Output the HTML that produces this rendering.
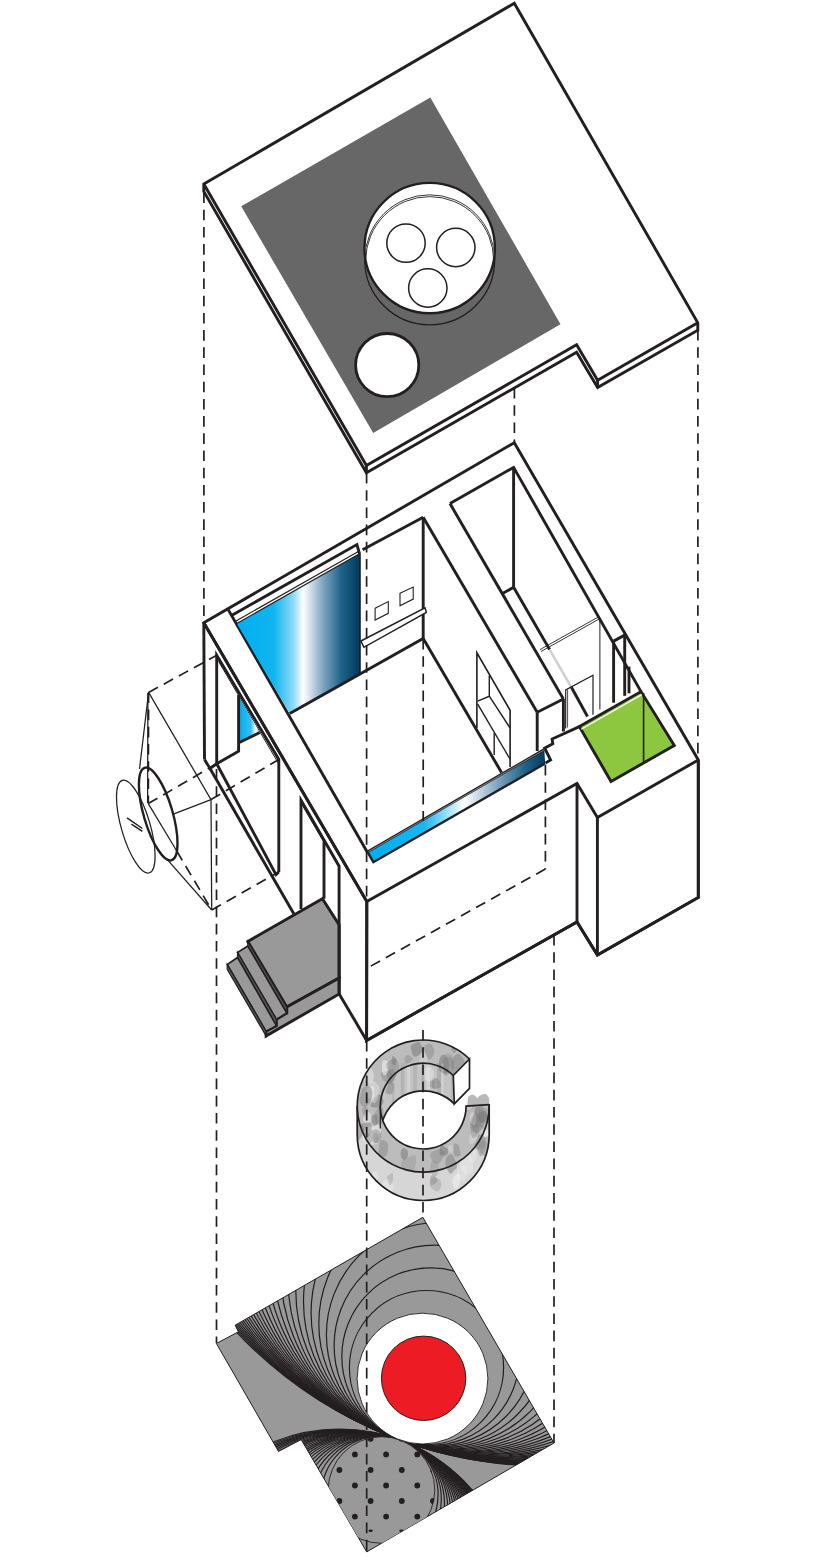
<!DOCTYPE html>
<html><head><meta charset="utf-8"><title>Exploded axonometric</title>
<style>html,body{margin:0;padding:0;background:#fff}svg{display:block}</style></head>
<body><svg width="818" height="1560" viewBox="0 0 818 1560"><polygon points="203.8,184.0 514.3,3.3 697.8,322.8 697.8,330.2 597.6,387.6 576.6,352.2 366.4,472.8 203.8,191.4" fill="#fff" stroke="#231f20" stroke-width="2.9" stroke-linejoin="miter" />
<polyline points="203.8,184.0 366.4,465.4 576.6,344.8 597.6,380.2 697.8,322.8" fill="none" stroke="#231f20" stroke-width="2.9" />
<polyline points="366.4,465.4 366.4,472.8" fill="none" stroke="#231f20" stroke-width="2.9" />
<polyline points="597.6,380.2 597.6,387.6" fill="none" stroke="#231f20" stroke-width="2.9" />
<polygon points="430.3,97.4 241.2,206.3 373.2,433.0 560.5,324.2" fill="#676767" stroke="none" stroke-width="0" stroke-linejoin="miter" />
<circle cx="429.7" cy="259.8" r="65.0" fill="none" stroke="#231f20" stroke-width="1.3" />
<circle cx="429.7" cy="248.1" r="65.2" fill="#fff" stroke="#231f20" stroke-width="2.4" />
<clipPath id="cpA"><circle cx="429.7" cy="248.1" r="64"/></clipPath>
<g clip-path="url(#cpA)">
<circle cx="429.7" cy="259.8" r="65.0" fill="none" stroke="#231f20" stroke-width="0.9" />
<circle cx="429.7" cy="260.6" r="64.0" fill="none" stroke="#231f20" stroke-width="0.9" />
</g>
<circle cx="406.0" cy="243.1" r="19.2" fill="#fff" stroke="#231f20" stroke-width="1.5" />
<circle cx="455.8" cy="247.5" r="19.2" fill="#fff" stroke="#231f20" stroke-width="1.5" />
<circle cx="427.8" cy="288.0" r="19.2" fill="#fff" stroke="#231f20" stroke-width="1.5" />
<circle cx="387.2" cy="365.1" r="31.6" fill="#fff" stroke="#231f20" stroke-width="2.8" />
<polygon points="247.8,941.5 322.4,898.7 339.2,925.0 339.2,978.0 286.8,1007.1" fill="#999999" stroke="#231f20" stroke-width="2.9" stroke-linejoin="miter" />
<polygon points="286.8,1007.1 339.2,978.0 339.2,993.9 266.1,1036.0 266.1,1031.3 276.4,1025.7 276.4,1019.3 286.8,1013.0" fill="#999999" stroke="#231f20" stroke-width="2.9" stroke-linejoin="miter" />
<polygon points="247.8,941.5 247.8,946.0 286.8,1013.0 286.8,1007.1" fill="#555" stroke="#231f20" stroke-width="1.2" stroke-linejoin="miter" />
<polygon points="247.8,946.0 237.5,952.5 276.4,1019.3 286.8,1013.0" fill="#999999" stroke="#231f20" stroke-width="1.6" stroke-linejoin="miter" />
<polygon points="237.5,952.5 237.5,957.5 276.4,1025.7 276.4,1019.3" fill="#555" stroke="#231f20" stroke-width="1.2" stroke-linejoin="miter" />
<polygon points="237.5,957.5 227.2,964.5 266.1,1031.3 276.4,1025.7" fill="#999999" stroke="#231f20" stroke-width="1.6" stroke-linejoin="miter" />
<polygon points="227.2,964.5 227.2,969.3 266.1,1036.0 266.1,1031.3" fill="#555" stroke="#231f20" stroke-width="1.2" stroke-linejoin="miter" />
<polygon points="203.8,622.8 514.3,442.7 698.3,760.0 698.3,897.4 597.4,955.0 577.0,922.0 366.6,1040.4 366.8,901.6 366.8,901.6" fill="none" stroke="#231f20" stroke-width="2.9" stroke-linejoin="miter" />
<polyline points="366.8,901.6 577.0,783.5 597.4,817.5 698.3,760.0" fill="none" stroke="#231f20" stroke-width="2.9" />
<polyline points="366.8,901.6 366.6,1040.4 577.0,922.0 597.4,955.0 698.3,897.4 698.3,760.0" fill="none" stroke="#231f20" stroke-width="2.9" />
<polyline points="577.0,783.5 577.0,922.0" fill="none" stroke="#231f20" stroke-width="2.9" />
<polyline points="597.4,817.5 597.4,955.0" fill="none" stroke="#231f20" stroke-width="2.9" />
<polyline points="203.8,622.8 204.5,759.6" fill="none" stroke="#231f20" stroke-width="2.9" />
<polyline points="203.8,622.8 366.8,901.6" fill="none" stroke="#231f20" stroke-width="2.9" />
<polyline points="228.2,609.6 367.2,852.0" fill="none" stroke="#231f20" stroke-width="2.9" />
<polyline points="216.7,763.8 216.7,655.3 278.8,759.5 278.8,872.0" fill="none" stroke="#231f20" stroke-width="2.9" />
<polyline points="218.6,661.5 278.5,763.5" fill="none" stroke="#231f20" stroke-width="1.0" />
<linearGradient id="gB2" x1="239.7" x2="260" y1="0" y2="0" gradientUnits="userSpaceOnUse"><stop offset="0" stop-color="#00aeef"/><stop offset="0.55" stop-color="#38bff0"/><stop offset="0.8" stop-color="#ffffff"/><stop offset="1" stop-color="#7aa6c4"/></linearGradient>
<polygon points="239.3,697.5 259.8,732.5 239.3,742.5" fill="url(#gB2)" stroke="none" stroke-width="0" stroke-linejoin="miter" />
<polyline points="238.6,695.0 238.6,751.2 216.7,763.8" fill="none" stroke="#231f20" stroke-width="2.9" />
<polyline points="239.3,742.5 259.8,732.5" fill="none" stroke="#231f20" stroke-width="2.9" />
<polyline points="204.5,759.6 210.0,768.5 216.7,763.8" fill="none" stroke="#231f20" stroke-width="2.9" />
<polyline points="216.7,763.8 276.0,874.6 278.8,872.0" fill="none" stroke="#231f20" stroke-width="2.9" />
<polyline points="210.0,768.5 293.8,913.8" fill="none" stroke="#231f20" stroke-width="2.9" />
<polyline points="301.0,909.0 301.0,800.2 339.1,866.2 339.1,993.9" fill="none" stroke="#231f20" stroke-width="2.9" />
<polyline points="324.0,841.5 324.0,898.7" fill="none" stroke="#231f20" stroke-width="2.9" />
<polyline points="303.0,806.5 324.0,842.5" fill="none" stroke="#231f20" stroke-width="1.0" />
<polyline points="339.2,993.9 366.6,1040.4" fill="none" stroke="#231f20" stroke-width="2.9" />
<linearGradient id="gB1" x1="236.8" x2="360" y1="0" y2="0" gradientUnits="userSpaceOnUse"><stop offset="0" stop-color="#00aeef"/><stop offset="0.3" stop-color="#10b5f0"/><stop offset="0.46" stop-color="#8fdaf7"/><stop offset="0.54" stop-color="#ffffff"/><stop offset="0.7" stop-color="#7fa5c0"/><stop offset="0.85" stop-color="#1f6288"/><stop offset="1" stop-color="#003a5e"/></linearGradient>
<polygon points="236.8,623.5 360.0,553.5 360.0,674.0 289.8,713.5" fill="url(#gB1)" stroke="none" stroke-width="0" stroke-linejoin="miter" />
<polyline points="236.8,623.5 359.5,553.8" fill="none" stroke="#231f20" stroke-width="1.2" />
<polyline points="236.0,621.0 358.8,551.2" fill="none" stroke="#231f20" stroke-width="1.2" />
<polyline points="231.5,615.5 356.9,544.6 359.6,553.8" fill="none" stroke="#231f20" stroke-width="2.9" />
<polyline points="360.0,553.5 360.0,674.0" fill="none" stroke="#231f20" stroke-width="1.6" />
<polyline points="362.6,549.7 423.2,517.3" fill="none" stroke="#231f20" stroke-width="2.9" />
<polyline points="423.2,517.3 423.2,638.5" fill="none" stroke="#231f20" stroke-width="2.9" />
<polyline points="289.8,713.5 423.2,638.5 501.5,772.5" fill="none" stroke="#231f20" stroke-width="2.9" />
<polygon points="375.1,608.3 388.3,601.6 388.3,613.3 375.1,620.0" fill="none" stroke="#231f20" stroke-width="1.1" stroke-linejoin="miter" />
<polygon points="400.0,593.3 413.2,587.1 413.2,599.1 400.0,605.8" fill="none" stroke="#231f20" stroke-width="1.1" stroke-linejoin="miter" />
<polygon points="360.9,641.0 425.0,607.9 426.4,612.3 363.9,647.3" fill="#fff" stroke="#231f20" stroke-width="1.5" stroke-linejoin="miter" />
<polyline points="423.2,517.3 537.2,712.3" fill="none" stroke="#231f20" stroke-width="2.9" />
<polyline points="450.0,503.6 563.4,699.0" fill="none" stroke="#231f20" stroke-width="2.9" />
<polyline points="450.0,503.6 513.6,467.4 641.0,691.6" fill="none" stroke="#231f20" stroke-width="2.9" />
<polyline points="513.6,467.4 513.6,587.3" fill="none" stroke="#231f20" stroke-width="2.9" />
<polyline points="513.6,587.3 502.5,593.6" fill="none" stroke="#231f20" stroke-width="2.9" />
<polyline points="513.6,587.3 549.6,649.6" fill="none" stroke="#231f20" stroke-width="2.9" />
<polyline points="549.6,649.6 571.4,687.3" fill="none" stroke="#cfcfcf" stroke-width="2.4" />
<polyline points="571.4,687.3 587.5,716.5" fill="none" stroke="#231f20" stroke-width="2.9" />
<polyline points="537.2,712.3 563.4,699.0" fill="none" stroke="#231f20" stroke-width="2.9" />
<polyline points="537.2,712.3 537.2,751.0" fill="none" stroke="#231f20" stroke-width="2.9" />
<polyline points="563.4,699.0 563.4,731.5" fill="none" stroke="#231f20" stroke-width="2.9" />
<polyline points="579.4,726.6 552.1,739.0 552.8,743.8 544.7,748.2 550.6,760.0 545.5,762.9" fill="none" stroke="#231f20" stroke-width="2.9" />
<polyline points="476.9,728.0 476.9,652.8 510.1,710.3 510.1,767.0" fill="none" stroke="#231f20" stroke-width="1.6" />
<polyline points="489.3,675.5 489.3,696.2 477.7,701.1" fill="none" stroke="#231f20" stroke-width="1.4" />
<polyline points="489.3,696.2 510.1,728.0" fill="none" stroke="#231f20" stroke-width="1.4" />
<polyline points="477.7,704.2 510.1,759.2" fill="none" stroke="#231f20" stroke-width="1.4" />
<polyline points="494.2,732.9 494.2,754.9" fill="none" stroke="#231f20" stroke-width="1.4" />
<polyline points="613.6,641.1 624.7,635.1" fill="none" stroke="#231f20" stroke-width="2.9" />
<polyline points="613.6,641.1 613.6,702.7" fill="none" stroke="#231f20" stroke-width="2.9" />
<polyline points="624.7,635.1 624.7,695.8" fill="none" stroke="#231f20" stroke-width="2.9" />
<polyline points="629.0,666.7 629.0,693.3" fill="none" stroke="#231f20" stroke-width="2.9" />
<polyline points="540.0,649.6 598.2,617.1" fill="none" stroke="#231f20" stroke-width="0.9" />
<polyline points="541.0,651.5 599.2,619.0" fill="none" stroke="#231f20" stroke-width="0.9" />
<polyline points="599.9,618.0 599.9,709.5" fill="none" stroke="#231f20" stroke-width="1.0" />
<polyline points="565.7,728.4 565.7,689.9 593.0,675.3 593.0,714.7" fill="none" stroke="#231f20" stroke-width="1.2" />
<polyline points="567.6,727.5 567.6,689.5" fill="none" stroke="#231f20" stroke-width="0.8" />
<polygon points="579.4,726.6 641.0,691.6 674.3,745.5 611.0,781.5" fill="#8dc63f" stroke="#231f20" stroke-width="2.9" stroke-linejoin="miter" />
<polyline points="581.2,729.3 641.8,694.6" fill="none" stroke="#fff" stroke-width="1.3" />
<polyline points="643.6,693.0 643.6,762.0" fill="none" stroke="#231f20" stroke-width="1.6" />
<linearGradient id="gB3" x1="372" x2="546" y1="0" y2="0" gradientUnits="userSpaceOnUse"><stop offset="0" stop-color="#00aeef"/><stop offset="0.3" stop-color="#18b7f0"/><stop offset="0.53" stop-color="#ffffff"/><stop offset="0.72" stop-color="#7fa5c0"/><stop offset="0.88" stop-color="#1f6288"/><stop offset="1" stop-color="#003a5e"/></linearGradient>
<polygon points="367.4,851.9 544.3,749.5 545.2,763.5 373.4,862.2" fill="url(#gB3)" stroke="none" stroke-width="0" stroke-linejoin="miter" />
<polyline points="367.4,851.9 544.3,749.5" fill="none" stroke="#231f20" stroke-width="2.6" />
<polyline points="367.6,852.1 544.3,749.8" fill="none" stroke="#aaa" stroke-width="0.7" />
<polyline points="367.4,851.9 373.4,862.2 545.2,763.5" fill="none" stroke="#231f20" stroke-width="2.4" />
<polyline points="148.6,692.4 216.7,655.3" fill="none" stroke="#231f20" stroke-width="1.7" stroke-dasharray="10.6 6.6" />
<polyline points="211.0,799.6 278.8,759.5" fill="none" stroke="#231f20" stroke-width="1.7" stroke-dasharray="10.6 6.6" />
<polyline points="148.3,803.6 216.7,763.8" fill="none" stroke="#231f20" stroke-width="1.7" stroke-dasharray="10.6 6.6" />
<polyline points="211.7,910.0 278.8,872.0" fill="none" stroke="#231f20" stroke-width="1.7" stroke-dasharray="10.6 6.6" />
<polyline points="148.6,692.4 148.3,803.6" fill="none" stroke="#231f20" stroke-width="1.7" stroke-dasharray="10.6 6.6" />
<polyline points="148.6,692.4 211.0,799.6 211.7,910.0" fill="none" stroke="#231f20" stroke-width="1.25" />
<polyline points="147.9,693.0 147.6,803.0" fill="none" stroke="#231f20" stroke-width="1.25" />
<polyline points="148.3,803.6 176.9,851.2" fill="none" stroke="#231f20" stroke-width="1.25" />
<polyline points="176.9,851.2 211.7,910.0" fill="none" stroke="#231f20" stroke-width="1.7" stroke-dasharray="10.6 6.6" />
<polyline points="148.6,692.4 139.5,769.0" fill="none" stroke="#231f20" stroke-width="1.25" />
<polyline points="211.0,799.6 174.0,813.8" fill="none" stroke="#231f20" stroke-width="1.25" />
<polyline points="211.7,910.0 168.0,860.3" fill="none" stroke="#231f20" stroke-width="1.25" />
<circle r="1" fill="none" stroke="#231f20" stroke-width="1.25" transform="matrix(19.3,29.3,0,36,135.8,826.6)" vector-effect="non-scaling-stroke"/>
<circle r="1" fill="none" stroke="#231f20" stroke-width="2.4" transform="matrix(19.3,29.3,0,36,158.2,814)" vector-effect="non-scaling-stroke"/>
<polyline points="127.0,817.8 142.4,828.5" fill="none" stroke="#231f20" stroke-width="1.5" />
<polyline points="131.4,824.1 142.4,831.4" fill="none" stroke="#231f20" stroke-width="1.5" />
<clipPath id="cpC"><path d="M 469.5,1059.0 A 66.0,66.0 0 0 0 357.2,1106.1 L 357.2,1134.5 A 66.0,66.0 0 0 0 489.2,1134.5 L 489.2,1106.1 L 466.1,1106.1 A 42.9,42.9 0 0 1 380.3,1106.1 A 42.9,42.9 0 0 1 453.3,1075.5 Z"/><path d="M 380.3,1106.1 A 42.9,42.9 0 0 1 453.3,1075.5 L 453.3,1103.9 A 42.9,42.9 0 0 0 380.3,1134.5 Z"/></clipPath>
<path d="M 469.5,1059.0 A 66.0,66.0 0 0 0 357.2,1106.1 L 357.2,1134.5 A 66.0,66.0 0 0 0 489.2,1134.5 L 489.2,1106.1 L 466.1,1106.1 A 42.9,42.9 0 0 1 380.3,1106.1 A 42.9,42.9 0 0 1 453.3,1075.5 Z" fill="#d6d6d6" stroke="none"/>
<path d="M 380.3,1106.1 A 42.9,42.9 0 0 1 453.3,1075.5 L 453.3,1103.9 A 42.9,42.9 0 0 0 380.3,1134.5 Z" fill="#c4c4c4" stroke="none"/>
<path d="M 469.5,1059.0 A 66.0,66.0 0 1 0 489.2,1106.1 L 466.1,1106.1 A 42.9,42.9 0 1 1 453.3,1075.5 Z" fill="#bcbcbc" stroke="none"/>
<g clip-path="url(#cpC)">
<path d="M 375.4,1131.3 Q 377.5,1136.3 374.9,1140.5 Q 372.3,1144.6 370.8,1146.7 Q 369.2,1148.8 366.3,1145.6 Q 363.3,1142.4 362.6,1137.8 Q 361.9,1133.2 365.2,1129.4 Q 368.5,1125.5 370.9,1125.9 Q 373.4,1126.2 375.4,1131.3 Z" fill="#f4f4f4" fill-opacity="0.5"/>
<path d="M 434.5,1081.9 Q 434.1,1083.5 434.2,1086.0 Q 434.3,1088.5 432.8,1088.0 Q 431.3,1087.6 430.3,1086.7 Q 429.4,1085.8 429.9,1083.8 Q 430.3,1081.9 431.0,1081.0 Q 431.6,1080.0 433.2,1080.2 Q 434.8,1080.4 434.5,1081.9 Z" fill="#8c8c8c" fill-opacity="0.5"/>
<path d="M 477.3,1134.8 Q 478.3,1137.2 476.7,1139.8 Q 475.0,1142.4 473.1,1143.2 Q 471.1,1144.1 470.0,1143.9 Q 468.9,1143.8 469.1,1139.6 Q 469.4,1135.4 471.2,1132.0 Q 473.0,1128.6 474.7,1130.5 Q 476.4,1132.4 477.3,1134.8 Z" fill="#f4f4f4" fill-opacity="0.3"/>
<path d="M 489.5,1132.0 Q 490.6,1134.3 489.8,1137.1 Q 488.9,1139.9 487.0,1140.9 Q 485.0,1141.8 484.4,1139.3 Q 483.8,1136.8 483.2,1134.6 Q 482.7,1132.5 483.4,1130.8 Q 484.2,1129.2 486.3,1129.5 Q 488.4,1129.8 489.5,1132.0 Z" fill="#ffffff" fill-opacity="0.3"/>
<path d="M 446.5,1147.9 Q 448.5,1148.8 448.0,1152.2 Q 447.5,1155.6 444.8,1155.5 Q 442.0,1155.5 440.6,1155.3 Q 439.2,1155.2 439.5,1151.2 Q 439.7,1147.3 441.0,1146.0 Q 442.4,1144.8 443.4,1145.9 Q 444.5,1147.0 446.5,1147.9 Z" fill="#777" fill-opacity="0.55"/>
<path d="M 368.1,1110.5 Q 368.9,1113.4 367.9,1114.4 Q 367.0,1115.5 365.9,1116.7 Q 364.9,1117.9 364.1,1116.2 Q 363.3,1114.5 362.3,1111.9 Q 361.2,1109.4 363.3,1107.5 Q 365.4,1105.5 366.4,1106.6 Q 367.3,1107.7 368.1,1110.5 Z" fill="#808080" fill-opacity="0.4"/>
<path d="M 484.1,1114.2 Q 485.4,1116.8 484.8,1121.9 Q 484.1,1126.9 480.1,1127.6 Q 476.2,1128.3 474.7,1124.2 Q 473.2,1120.0 473.1,1115.3 Q 472.9,1110.7 475.6,1108.3 Q 478.2,1105.9 480.5,1108.8 Q 482.7,1111.7 484.1,1114.2 Z" fill="#8c8c8c" fill-opacity="0.35"/>
<path d="M 392.2,1073.8 Q 394.6,1076.1 392.8,1080.9 Q 391.0,1085.8 388.4,1084.1 Q 385.8,1082.3 384.1,1081.2 Q 382.5,1080.0 381.2,1076.1 Q 380.0,1072.3 383.0,1071.7 Q 386.0,1071.2 387.9,1071.3 Q 389.8,1071.5 392.2,1073.8 Z" fill="#858585" fill-opacity="0.45"/>
<path d="M 473.9,1087.2 Q 474.6,1089.7 474.7,1093.3 Q 474.8,1096.9 472.8,1096.6 Q 470.8,1096.3 469.1,1094.7 Q 467.4,1093.2 466.9,1088.9 Q 466.5,1084.7 468.5,1084.6 Q 470.4,1084.5 471.8,1084.7 Q 473.2,1084.8 473.9,1087.2 Z" fill="#f4f4f4" fill-opacity="0.3"/>
<path d="M 388.5,1063.5 Q 388.2,1066.1 388.7,1069.4 Q 389.2,1072.6 386.6,1074.5 Q 384.0,1076.3 382.9,1073.9 Q 381.7,1071.5 381.9,1067.6 Q 382.0,1063.7 382.2,1061.7 Q 382.4,1059.7 385.6,1060.3 Q 388.8,1060.9 388.5,1063.5 Z" fill="#f4f4f4" fill-opacity="0.55"/>
<path d="M 483.3,1087.8 Q 484.7,1091.8 483.7,1092.9 Q 482.7,1094.0 480.6,1096.5 Q 478.6,1099.1 477.5,1095.5 Q 476.5,1091.9 476.9,1090.1 Q 477.3,1088.4 478.5,1086.8 Q 479.8,1085.3 480.8,1084.6 Q 481.8,1083.9 483.3,1087.8 Z" fill="#777" fill-opacity="0.45"/>
<path d="M 371.0,1114.9 Q 371.4,1117.7 370.9,1121.0 Q 370.3,1124.3 369.0,1123.5 Q 367.7,1122.7 364.8,1122.0 Q 361.9,1121.3 363.2,1117.7 Q 364.4,1114.0 365.9,1113.2 Q 367.5,1112.4 369.0,1112.2 Q 370.6,1112.1 371.0,1114.9 Z" fill="#ffffff" fill-opacity="0.4"/>
<path d="M 440.7,1181.2 Q 442.3,1183.8 440.3,1188.2 Q 438.4,1192.5 436.0,1191.3 Q 433.7,1190.2 431.6,1188.3 Q 429.4,1186.5 429.6,1183.0 Q 429.8,1179.4 432.3,1178.2 Q 434.8,1177.0 436.9,1177.8 Q 439.0,1178.6 440.7,1181.2 Z" fill="#808080" fill-opacity="0.3"/>
<path d="M 489.5,1114.0 Q 489.8,1119.4 488.9,1121.8 Q 488.0,1124.2 484.9,1123.7 Q 481.7,1123.2 479.2,1122.1 Q 476.8,1121.0 476.8,1116.7 Q 476.8,1112.3 478.5,1109.9 Q 480.3,1107.5 484.7,1108.0 Q 489.1,1108.6 489.5,1114.0 Z" fill="#8c8c8c" fill-opacity="0.4"/>
<path d="M 380.4,1126.7 Q 382.0,1128.6 380.7,1131.8 Q 379.4,1135.0 377.8,1134.9 Q 376.2,1134.9 374.6,1133.8 Q 373.0,1132.7 372.7,1130.2 Q 372.5,1127.7 374.1,1126.1 Q 375.8,1124.5 377.3,1124.6 Q 378.8,1124.8 380.4,1126.7 Z" fill="#f4f4f4" fill-opacity="0.5"/>
<path d="M 379.2,1130.7 Q 380.1,1135.0 379.6,1139.3 Q 379.2,1143.6 376.0,1144.4 Q 372.9,1145.2 370.8,1143.2 Q 368.7,1141.2 368.9,1136.2 Q 369.2,1131.2 371.0,1126.9 Q 372.8,1122.6 375.5,1124.5 Q 378.3,1126.4 379.2,1130.7 Z" fill="#e8e8e8" fill-opacity="0.35"/>
<path d="M 478.0,1083.7 Q 479.2,1086.8 479.4,1090.4 Q 479.7,1094.0 476.5,1094.5 Q 473.4,1095.1 470.4,1091.6 Q 467.3,1088.1 469.5,1085.9 Q 471.6,1083.6 472.8,1079.1 Q 474.0,1074.6 475.5,1077.6 Q 476.9,1080.6 478.0,1083.7 Z" fill="#7a7a7a" fill-opacity="0.45"/>
<path d="M 452.5,1147.1 Q 452.7,1148.8 452.8,1150.5 Q 452.8,1152.3 451.7,1152.8 Q 450.6,1153.3 449.7,1152.2 Q 448.9,1151.1 448.1,1148.9 Q 447.3,1146.7 448.9,1145.8 Q 450.4,1144.8 451.4,1145.1 Q 452.4,1145.4 452.5,1147.1 Z" fill="#e8e8e8" fill-opacity="0.35"/>
<path d="M 471.2,1074.0 Q 471.7,1077.4 470.9,1078.8 Q 470.1,1080.1 469.0,1082.5 Q 467.8,1085.0 466.4,1082.6 Q 465.0,1080.3 465.4,1077.9 Q 465.9,1075.5 466.2,1073.0 Q 466.5,1070.6 468.6,1070.6 Q 470.8,1070.5 471.2,1074.0 Z" fill="#999" fill-opacity="0.5"/>
<path d="M 464.6,1076.2 Q 465.4,1080.3 465.3,1083.6 Q 465.1,1086.8 461.9,1087.1 Q 458.7,1087.5 457.7,1086.0 Q 456.7,1084.4 457.3,1081.1 Q 457.8,1077.7 458.7,1075.9 Q 459.6,1074.1 461.7,1073.1 Q 463.8,1072.1 464.6,1076.2 Z" fill="#f4f4f4" fill-opacity="0.45"/>
<path d="M 363.5,1127.4 Q 364.3,1131.9 362.8,1134.7 Q 361.2,1137.5 359.4,1139.5 Q 357.7,1141.4 356.0,1138.1 Q 354.4,1134.7 355.0,1131.7 Q 355.5,1128.6 356.5,1126.3 Q 357.4,1124.0 360.0,1123.5 Q 362.6,1122.9 363.5,1127.4 Z" fill="#808080" fill-opacity="0.5"/>
<path d="M 427.0,1058.3 Q 427.5,1060.2 426.9,1063.3 Q 426.3,1066.5 423.5,1067.1 Q 420.7,1067.8 419.2,1067.1 Q 417.8,1066.4 418.9,1062.0 Q 420.1,1057.6 421.1,1053.3 Q 422.1,1049.1 424.3,1052.7 Q 426.5,1056.3 427.0,1058.3 Z" fill="#e8e8e8" fill-opacity="0.35"/>
<path d="M 476.9,1119.0 Q 477.0,1121.6 477.1,1125.0 Q 477.2,1128.3 474.8,1128.4 Q 472.5,1128.6 471.8,1126.3 Q 471.1,1124.1 470.4,1122.5 Q 469.6,1120.9 470.9,1118.5 Q 472.2,1116.1 474.4,1116.2 Q 476.7,1116.3 476.9,1119.0 Z" fill="#7a7a7a" fill-opacity="0.35"/>
<path d="M 411.8,1057.2 Q 414.0,1058.9 411.3,1061.0 Q 408.7,1063.1 408.1,1064.2 Q 407.5,1065.3 406.5,1064.4 Q 405.5,1063.5 404.6,1060.9 Q 403.7,1058.3 405.5,1056.5 Q 407.3,1054.7 408.5,1055.1 Q 409.7,1055.5 411.8,1057.2 Z" fill="#777" fill-opacity="0.35"/>
<path d="M 453.7,1062.5 Q 454.6,1068.0 452.5,1070.1 Q 450.3,1072.2 447.8,1074.5 Q 445.3,1076.8 443.2,1073.7 Q 441.2,1070.7 441.5,1066.0 Q 441.8,1061.3 443.8,1059.0 Q 445.7,1056.7 449.3,1056.9 Q 452.9,1057.1 453.7,1062.5 Z" fill="#8c8c8c" fill-opacity="0.55"/>
<path d="M 448.5,1061.1 Q 449.4,1066.6 448.5,1070.2 Q 447.5,1073.8 444.5,1073.3 Q 441.6,1072.8 440.1,1071.4 Q 438.6,1069.9 438.7,1064.9 Q 438.8,1059.8 440.3,1057.0 Q 441.7,1054.1 444.6,1054.9 Q 447.5,1055.7 448.5,1061.1 Z" fill="#7a7a7a" fill-opacity="0.55"/>
<path d="M 382.5,1097.7 Q 384.8,1101.8 382.3,1104.7 Q 379.8,1107.5 377.9,1107.7 Q 375.9,1107.9 372.6,1107.3 Q 369.2,1106.6 371.5,1103.1 Q 373.8,1099.6 374.7,1097.8 Q 375.5,1096.0 377.8,1094.8 Q 380.2,1093.6 382.5,1097.7 Z" fill="#6f6f6f" fill-opacity="0.45"/>
<path d="M 379.5,1087.2 Q 379.7,1089.1 378.4,1095.4 Q 377.1,1101.6 375.0,1102.9 Q 373.0,1104.3 370.6,1099.4 Q 368.2,1094.6 368.0,1089.3 Q 367.7,1084.0 369.8,1081.7 Q 371.9,1079.4 375.6,1082.4 Q 379.3,1085.3 379.5,1087.2 Z" fill="#f4f4f4" fill-opacity="0.35"/>
<path d="M 398.6,1063.5 Q 400.1,1068.7 397.7,1072.8 Q 395.4,1076.9 393.5,1078.9 Q 391.7,1081.0 390.0,1076.5 Q 388.3,1071.9 386.9,1068.1 Q 385.5,1064.3 387.8,1061.9 Q 390.1,1059.5 393.6,1058.9 Q 397.1,1058.2 398.6,1063.5 Z" fill="#808080" fill-opacity="0.4"/>
<path d="M 476.6,1151.8 Q 477.1,1154.3 476.4,1157.3 Q 475.6,1160.4 473.9,1162.0 Q 472.2,1163.6 469.8,1160.5 Q 467.4,1157.3 468.3,1154.1 Q 469.2,1150.9 470.6,1150.1 Q 472.1,1149.2 474.1,1149.3 Q 476.0,1149.3 476.6,1151.8 Z" fill="#f4f4f4" fill-opacity="0.3"/>
<path d="M 465.3,1062.6 Q 467.3,1067.8 466.9,1071.5 Q 466.4,1075.1 460.2,1077.2 Q 454.0,1079.2 452.5,1075.4 Q 451.0,1071.5 451.0,1066.0 Q 451.1,1060.6 454.3,1056.3 Q 457.4,1052.1 460.3,1054.7 Q 463.2,1057.4 465.3,1062.6 Z" fill="#7a7a7a" fill-opacity="0.45"/>
<path d="M 481.4,1121.7 Q 482.8,1126.7 481.8,1129.7 Q 480.8,1132.8 477.8,1133.4 Q 474.9,1134.1 472.3,1131.8 Q 469.7,1129.6 470.1,1124.4 Q 470.5,1119.3 472.1,1116.2 Q 473.6,1113.1 476.8,1114.9 Q 480.0,1116.6 481.4,1121.7 Z" fill="#6f6f6f" fill-opacity="0.35"/>
<path d="M 453.5,1059.5 Q 452.9,1063.9 452.3,1064.6 Q 451.6,1065.3 448.9,1068.1 Q 446.2,1070.9 444.9,1068.6 Q 443.6,1066.3 444.0,1061.8 Q 444.5,1057.3 444.9,1054.9 Q 445.4,1052.4 449.7,1053.8 Q 454.0,1055.2 453.5,1059.5 Z" fill="#8c8c8c" fill-opacity="0.35"/>
<path d="M 459.9,1177.2 Q 459.9,1181.7 459.4,1184.1 Q 459.0,1186.4 457.3,1188.6 Q 455.7,1190.8 454.0,1188.1 Q 452.4,1185.5 452.4,1181.8 Q 452.3,1178.1 453.7,1176.4 Q 455.0,1174.7 457.4,1173.7 Q 459.8,1172.7 459.9,1177.2 Z" fill="#ffffff" fill-opacity="0.4"/>
<path d="M 490.1,1132.8 Q 491.3,1136.3 490.2,1137.2 Q 489.1,1138.2 487.2,1140.9 Q 485.3,1143.6 483.9,1140.4 Q 482.5,1137.2 482.8,1134.5 Q 483.0,1131.7 484.5,1130.6 Q 486.0,1129.4 487.5,1129.4 Q 488.9,1129.3 490.1,1132.8 Z" fill="#f4f4f4" fill-opacity="0.3"/>
<path d="M 443.5,1151.0 Q 445.5,1153.9 443.1,1157.8 Q 440.6,1161.7 438.9,1163.7 Q 437.3,1165.7 434.0,1162.8 Q 430.8,1159.9 430.4,1156.1 Q 430.1,1152.2 433.3,1151.2 Q 436.4,1150.2 438.9,1149.1 Q 441.4,1148.1 443.5,1151.0 Z" fill="#777" fill-opacity="0.35"/>
<path d="M 476.1,1095.1 Q 479.6,1096.6 476.9,1102.6 Q 474.2,1108.5 469.9,1110.8 Q 465.5,1113.2 465.2,1107.7 Q 464.9,1102.3 463.8,1098.3 Q 462.7,1094.4 465.8,1090.0 Q 468.9,1085.6 470.7,1089.5 Q 472.6,1093.5 476.1,1095.1 Z" fill="#808080" fill-opacity="0.4"/>
<path d="M 456.0,1161.7 Q 458.2,1166.9 455.7,1169.0 Q 453.1,1171.1 451.9,1173.1 Q 450.8,1175.1 448.7,1172.0 Q 446.6,1168.9 445.5,1164.7 Q 444.3,1160.4 447.2,1156.6 Q 450.0,1152.7 451.9,1154.6 Q 453.8,1156.4 456.0,1161.7 Z" fill="#858585" fill-opacity="0.55"/>
<path d="M 392.4,1184.1 Q 394.9,1188.8 392.9,1190.4 Q 390.9,1192.0 388.2,1192.8 Q 385.6,1193.7 384.0,1192.4 Q 382.4,1191.2 381.6,1187.8 Q 380.8,1184.4 383.9,1181.3 Q 387.0,1178.1 388.5,1178.8 Q 390.0,1179.4 392.4,1184.1 Z" fill="#f4f4f4" fill-opacity="0.4"/>
<path d="M 466.3,1167.1 Q 468.0,1170.5 466.9,1175.8 Q 465.9,1181.0 462.1,1180.8 Q 458.3,1180.6 457.6,1178.5 Q 456.8,1176.4 456.6,1173.2 Q 456.3,1170.1 458.2,1168.9 Q 460.1,1167.8 462.3,1165.7 Q 464.6,1163.6 466.3,1167.1 Z" fill="#f4f4f4" fill-opacity="0.3"/>
<path d="M 377.8,1117.7 Q 378.1,1120.7 377.7,1122.9 Q 377.2,1125.1 375.7,1125.7 Q 374.1,1126.3 373.1,1124.6 Q 372.0,1122.9 371.6,1119.9 Q 371.2,1116.8 372.8,1115.6 Q 374.4,1114.3 376.0,1114.6 Q 377.6,1114.8 377.8,1117.7 Z" fill="#6f6f6f" fill-opacity="0.45"/>
<path d="M 484.5,1136.4 Q 486.1,1138.6 485.6,1142.8 Q 485.2,1146.9 481.2,1148.8 Q 477.3,1150.6 475.8,1148.4 Q 474.2,1146.3 475.9,1142.1 Q 477.6,1137.9 478.2,1134.3 Q 478.8,1130.6 480.9,1132.4 Q 482.9,1134.2 484.5,1136.4 Z" fill="#8c8c8c" fill-opacity="0.5"/>
<path d="M 440.2,1082.4 Q 441.8,1086.3 440.5,1087.0 Q 439.2,1087.7 437.4,1088.4 Q 435.5,1089.0 434.0,1089.6 Q 432.4,1090.3 432.2,1085.1 Q 431.9,1079.9 433.7,1079.0 Q 435.5,1078.0 437.0,1078.3 Q 438.5,1078.6 440.2,1082.4 Z" fill="#808080" fill-opacity="0.5"/>
<path d="M 486.8,1113.9 Q 488.3,1117.9 486.8,1119.7 Q 485.3,1121.5 483.5,1122.5 Q 481.6,1123.5 479.9,1121.5 Q 478.3,1119.4 478.3,1115.7 Q 478.4,1112.0 480.7,1111.7 Q 483.0,1111.4 484.1,1110.6 Q 485.2,1109.8 486.8,1113.9 Z" fill="#6f6f6f" fill-opacity="0.55"/>
<path d="M 371.5,1125.8 Q 371.8,1129.7 371.4,1132.8 Q 371.0,1135.8 368.4,1137.2 Q 365.7,1138.6 363.3,1135.1 Q 360.9,1131.6 360.7,1127.8 Q 360.4,1124.0 363.0,1123.5 Q 365.6,1123.1 368.4,1122.4 Q 371.1,1121.8 371.5,1125.8 Z" fill="#858585" fill-opacity="0.45"/>
<path d="M 394.2,1086.6 Q 394.1,1090.0 393.2,1091.6 Q 392.3,1093.2 391.2,1094.1 Q 390.2,1094.9 387.4,1093.7 Q 384.6,1092.5 385.7,1090.3 Q 386.7,1088.2 387.7,1084.6 Q 388.7,1081.1 391.5,1082.2 Q 394.2,1083.3 394.2,1086.6 Z" fill="#808080" fill-opacity="0.5"/>
<path d="M 459.2,1147.0 Q 459.7,1148.8 460.5,1152.5 Q 461.3,1156.2 457.8,1156.5 Q 454.4,1156.8 453.9,1153.9 Q 453.5,1151.1 453.6,1147.9 Q 453.6,1144.7 454.2,1143.8 Q 454.7,1142.9 456.8,1144.0 Q 458.8,1145.1 459.2,1147.0 Z" fill="#6f6f6f" fill-opacity="0.35"/>
<path d="M 372.8,1071.4 Q 374.9,1075.7 373.0,1080.6 Q 371.1,1085.6 368.9,1082.7 Q 366.7,1079.8 363.0,1080.0 Q 359.3,1080.1 360.4,1074.5 Q 361.4,1068.8 364.1,1065.7 Q 366.8,1062.6 368.8,1064.8 Q 370.8,1067.0 372.8,1071.4 Z" fill="#e8e8e8" fill-opacity="0.55"/>
<path d="M 373.9,1088.5 Q 373.9,1092.2 374.5,1094.7 Q 375.1,1097.2 372.8,1097.7 Q 370.5,1098.1 368.8,1098.1 Q 367.1,1098.2 366.7,1093.2 Q 366.3,1088.3 368.1,1087.8 Q 370.0,1087.4 371.9,1086.0 Q 373.9,1084.7 373.9,1088.5 Z" fill="#f4f4f4" fill-opacity="0.45"/>
<path d="M 433.7,1048.2 Q 434.6,1051.2 434.0,1053.4 Q 433.5,1055.6 431.2,1058.2 Q 429.0,1060.9 427.6,1057.6 Q 426.2,1054.3 424.4,1050.6 Q 422.7,1047.0 426.1,1045.1 Q 429.5,1043.1 431.2,1044.2 Q 432.8,1045.3 433.7,1048.2 Z" fill="#858585" fill-opacity="0.45"/>
<path d="M 388.2,1145.1 Q 388.2,1147.6 387.5,1152.2 Q 386.8,1156.8 384.2,1156.8 Q 381.6,1156.9 380.0,1155.7 Q 378.4,1154.6 378.8,1149.0 Q 379.2,1143.4 380.3,1141.2 Q 381.5,1139.0 384.9,1140.8 Q 388.3,1142.7 388.2,1145.1 Z" fill="#6f6f6f" fill-opacity="0.35"/>
<path d="M 438.5,1165.8 Q 439.4,1169.3 438.2,1172.8 Q 436.9,1176.2 435.4,1176.7 Q 433.9,1177.3 431.9,1174.0 Q 429.9,1170.8 430.1,1166.9 Q 430.4,1163.1 431.7,1161.7 Q 433.0,1160.2 435.3,1161.2 Q 437.6,1162.3 438.5,1165.8 Z" fill="#8c8c8c" fill-opacity="0.35"/>
<path d="M 475.4,1115.6 Q 476.3,1117.8 476.3,1121.1 Q 476.3,1124.4 474.0,1125.0 Q 471.8,1125.6 470.6,1122.8 Q 469.5,1120.0 469.6,1117.7 Q 469.8,1115.4 471.5,1113.6 Q 473.2,1111.7 473.9,1112.5 Q 474.6,1113.4 475.4,1115.6 Z" fill="#e8e8e8" fill-opacity="0.45"/>
<path d="M 407.9,1151.9 Q 408.1,1153.9 407.7,1156.1 Q 407.3,1158.4 405.7,1159.4 Q 404.1,1160.5 402.3,1158.9 Q 400.6,1157.4 400.6,1153.8 Q 400.6,1150.2 401.9,1148.9 Q 403.1,1147.5 405.4,1148.8 Q 407.7,1150.0 407.9,1151.9 Z" fill="#7a7a7a" fill-opacity="0.55"/>
<path d="M 486.8,1090.7 Q 487.8,1093.4 487.7,1096.7 Q 487.6,1099.9 484.5,1100.0 Q 481.4,1100.1 478.2,1097.5 Q 475.1,1094.9 475.7,1089.9 Q 476.4,1085.0 478.6,1083.1 Q 480.7,1081.2 483.3,1084.6 Q 485.9,1088.0 486.8,1090.7 Z" fill="#858585" fill-opacity="0.55"/>
<path d="M 380.3,1132.8 Q 381.7,1135.6 381.1,1138.3 Q 380.5,1141.0 378.1,1142.5 Q 375.6,1144.0 373.7,1140.4 Q 371.7,1136.9 371.4,1133.5 Q 371.1,1130.0 373.7,1129.5 Q 376.4,1129.0 377.7,1129.5 Q 378.9,1130.0 380.3,1132.8 Z" fill="#858585" fill-opacity="0.45"/>
<path d="M 483.5,1107.3 Q 483.9,1110.1 482.5,1112.4 Q 481.0,1114.8 479.3,1116.5 Q 477.6,1118.2 476.6,1116.2 Q 475.5,1114.2 474.7,1111.0 Q 473.9,1107.7 476.7,1107.0 Q 479.5,1106.3 481.3,1105.4 Q 483.0,1104.5 483.5,1107.3 Z" fill="#858585" fill-opacity="0.55"/>
<path d="M 436.5,1178.3 Q 438.4,1181.0 436.7,1182.4 Q 435.0,1183.8 433.2,1184.7 Q 431.4,1185.5 431.0,1184.8 Q 430.6,1184.0 430.2,1181.0 Q 429.9,1177.9 430.8,1176.5 Q 431.8,1175.0 433.2,1175.3 Q 434.6,1175.6 436.5,1178.3 Z" fill="#8c8c8c" fill-opacity="0.5"/>
<path d="M 483.0,1129.8 Q 483.3,1130.6 482.6,1132.6 Q 481.8,1134.7 481.2,1135.1 Q 480.5,1135.5 479.2,1134.6 Q 477.9,1133.6 478.5,1131.7 Q 479.1,1129.7 479.4,1127.7 Q 479.7,1125.6 481.2,1127.3 Q 482.7,1129.0 483.0,1129.8 Z" fill="#f4f4f4" fill-opacity="0.35"/>
<path d="M 477.8,1085.7 Q 477.5,1087.2 477.0,1088.5 Q 476.5,1089.9 475.7,1090.3 Q 474.9,1090.7 473.9,1089.5 Q 473.0,1088.2 472.6,1086.5 Q 472.1,1084.8 473.7,1082.8 Q 475.2,1080.9 476.7,1082.6 Q 478.1,1084.2 477.8,1085.7 Z" fill="#858585" fill-opacity="0.45"/>
<path d="M 394.9,1071.4 Q 397.0,1074.0 395.6,1077.1 Q 394.2,1080.3 392.3,1082.0 Q 390.4,1083.8 389.0,1081.0 Q 387.5,1078.2 386.6,1075.1 Q 385.8,1071.9 388.2,1070.6 Q 390.7,1069.2 391.8,1069.1 Q 392.9,1068.9 394.9,1071.4 Z" fill="#7a7a7a" fill-opacity="0.45"/>
<path d="M 483.2,1122.3 Q 484.4,1127.2 483.0,1128.5 Q 481.7,1129.8 479.1,1131.9 Q 476.6,1134.1 473.5,1130.8 Q 470.4,1127.5 471.5,1122.2 Q 472.6,1116.8 473.9,1113.9 Q 475.1,1111.1 478.5,1114.2 Q 482.0,1117.3 483.2,1122.3 Z" fill="#808080" fill-opacity="0.4"/>
<path d="M 421.5,1045.7 Q 423.4,1050.5 421.1,1053.0 Q 418.9,1055.5 416.3,1056.5 Q 413.6,1057.5 412.5,1054.4 Q 411.4,1051.2 410.7,1048.3 Q 410.1,1045.5 412.6,1044.2 Q 415.2,1043.0 417.4,1041.9 Q 419.7,1040.9 421.5,1045.7 Z" fill="#7a7a7a" fill-opacity="0.55"/>
<path d="M 473.2,1098.5 Q 475.7,1100.7 473.3,1105.8 Q 471.0,1110.9 467.7,1110.5 Q 464.4,1110.1 461.6,1107.4 Q 458.9,1104.7 459.8,1099.8 Q 460.6,1095.0 463.8,1095.2 Q 466.9,1095.5 468.8,1095.9 Q 470.8,1096.3 473.2,1098.5 Z" fill="#ffffff" fill-opacity="0.4"/>
<path d="M 372.1,1136.2 Q 372.6,1137.9 372.1,1140.5 Q 371.6,1143.0 369.6,1144.1 Q 367.7,1145.2 365.9,1143.1 Q 364.2,1141.0 365.6,1138.5 Q 367.0,1136.0 367.5,1134.3 Q 367.9,1132.5 369.8,1133.5 Q 371.6,1134.6 372.1,1136.2 Z" fill="#8c8c8c" fill-opacity="0.4"/>
<path d="M 377.6,1173.5 Q 378.3,1175.3 377.8,1177.5 Q 377.3,1179.6 376.2,1179.3 Q 375.1,1178.9 374.2,1177.7 Q 373.3,1176.6 372.8,1174.6 Q 372.2,1172.6 373.5,1171.9 Q 374.9,1171.1 375.9,1171.4 Q 376.9,1171.6 377.6,1173.5 Z" fill="#f4f4f4" fill-opacity="0.4"/>
<path d="M 478.8,1082.4 Q 478.9,1084.7 478.4,1087.5 Q 477.9,1090.3 477.2,1089.7 Q 476.5,1089.1 475.6,1088.0 Q 474.7,1086.8 474.6,1085.7 Q 474.5,1084.6 475.2,1082.8 Q 475.9,1081.0 477.3,1080.6 Q 478.6,1080.2 478.8,1082.4 Z" fill="#858585" fill-opacity="0.35"/>
<path d="M 477.2,1131.0 Q 477.4,1133.2 477.0,1135.2 Q 476.6,1137.2 474.9,1137.6 Q 473.3,1138.0 472.6,1137.7 Q 471.9,1137.5 470.9,1134.3 Q 469.9,1131.1 471.7,1129.9 Q 473.6,1128.8 475.3,1128.8 Q 477.0,1128.8 477.2,1131.0 Z" fill="#8c8c8c" fill-opacity="0.45"/>
<path d="M 395.8,1058.4 Q 396.9,1059.8 396.1,1063.0 Q 395.3,1066.2 394.2,1065.2 Q 393.0,1064.2 392.1,1063.9 Q 391.1,1063.6 391.6,1061.5 Q 392.1,1059.5 392.0,1057.7 Q 392.0,1055.9 393.4,1056.4 Q 394.8,1056.9 395.8,1058.4 Z" fill="#6f6f6f" fill-opacity="0.45"/>
<path d="M 489.4,1139.4 Q 489.2,1143.2 488.8,1148.9 Q 488.5,1154.6 486.0,1155.9 Q 483.5,1157.1 480.6,1152.4 Q 477.7,1147.6 477.9,1142.5 Q 478.1,1137.4 480.4,1137.7 Q 482.7,1137.9 486.2,1136.7 Q 489.6,1135.6 489.4,1139.4 Z" fill="#8c8c8c" fill-opacity="0.5"/>
<path d="M 393.1,1175.4 Q 393.2,1179.3 392.8,1180.8 Q 392.3,1182.2 391.0,1184.7 Q 389.6,1187.2 388.9,1184.3 Q 388.1,1181.3 387.2,1178.9 Q 386.3,1176.5 388.1,1175.6 Q 390.0,1174.8 391.5,1173.1 Q 392.9,1171.5 393.1,1175.4 Z" fill="#808080" fill-opacity="0.3"/>
<path d="M 378.5,1136.6 Q 378.6,1138.4 378.2,1140.0 Q 377.9,1141.6 376.3,1142.7 Q 374.8,1143.7 372.8,1142.3 Q 370.8,1140.8 371.9,1138.4 Q 373.0,1135.9 373.9,1133.5 Q 374.7,1131.2 376.6,1133.0 Q 378.4,1134.8 378.5,1136.6 Z" fill="#8c8c8c" fill-opacity="0.35"/>
<path d="M 383.6,1111.5 Q 384.0,1115.8 383.9,1119.8 Q 383.9,1123.7 380.8,1124.0 Q 377.7,1124.2 376.3,1122.9 Q 374.8,1121.5 374.3,1117.8 Q 373.7,1114.1 376.0,1110.5 Q 378.2,1106.8 380.7,1107.0 Q 383.2,1107.2 383.6,1111.5 Z" fill="#808080" fill-opacity="0.4"/>
<path d="M 371.5,1089.0 Q 373.4,1093.2 371.3,1099.0 Q 369.2,1104.8 366.3,1106.4 Q 363.4,1107.9 360.9,1104.9 Q 358.3,1101.8 359.8,1097.0 Q 361.3,1092.2 361.7,1089.9 Q 362.1,1087.6 365.8,1086.2 Q 369.5,1084.7 371.5,1089.0 Z" fill="#8c8c8c" fill-opacity="0.55"/>
<path d="M 416.1,1158.2 Q 416.6,1162.4 414.8,1167.7 Q 413.0,1172.9 410.8,1171.1 Q 408.6,1169.3 405.2,1169.0 Q 401.7,1168.7 401.2,1164.5 Q 400.6,1160.4 405.0,1158.7 Q 409.3,1157.1 412.4,1155.5 Q 415.6,1153.9 416.1,1158.2 Z" fill="#8c8c8c" fill-opacity="0.35"/>
<path d="M 468.4,1078.7 Q 469.1,1082.4 468.5,1085.3 Q 467.9,1088.3 465.6,1088.9 Q 463.4,1089.6 461.0,1088.1 Q 458.6,1086.5 457.9,1083.7 Q 457.2,1080.8 459.6,1075.6 Q 462.1,1070.4 464.9,1072.7 Q 467.7,1075.0 468.4,1078.7 Z" fill="#8c8c8c" fill-opacity="0.55"/>
<path d="M 472.7,1161.8 Q 473.4,1167.2 472.9,1170.2 Q 472.4,1173.3 469.4,1174.4 Q 466.3,1175.6 463.4,1172.2 Q 460.6,1168.9 459.8,1165.8 Q 458.9,1162.7 462.1,1157.8 Q 465.3,1152.9 468.7,1154.7 Q 472.1,1156.4 472.7,1161.8 Z" fill="#f4f4f4" fill-opacity="0.3"/>
<path d="M 433.5,1070.3 Q 434.8,1073.3 433.2,1076.8 Q 431.7,1080.3 429.5,1081.1 Q 427.2,1082.0 425.4,1080.4 Q 423.6,1078.9 423.6,1072.7 Q 423.6,1066.6 425.9,1066.9 Q 428.3,1067.2 430.2,1067.2 Q 432.1,1067.3 433.5,1070.3 Z" fill="#ffffff" fill-opacity="0.3"/>
<path d="M 486.1,1144.1 Q 486.6,1147.3 484.9,1149.8 Q 483.2,1152.2 481.8,1155.2 Q 480.3,1158.1 478.8,1153.9 Q 477.3,1149.6 476.8,1147.7 Q 476.3,1145.7 478.0,1143.3 Q 479.7,1140.9 482.6,1140.8 Q 485.5,1140.8 486.1,1144.1 Z" fill="#8c8c8c" fill-opacity="0.5"/>
<path d="M 457.2,1047.4 Q 456.7,1049.7 456.4,1050.8 Q 456.1,1051.9 455.2,1052.7 Q 454.3,1053.4 453.0,1052.8 Q 451.7,1052.2 451.5,1049.1 Q 451.4,1046.1 452.6,1045.2 Q 453.9,1044.2 455.8,1044.7 Q 457.6,1045.1 457.2,1047.4 Z" fill="#7a7a7a" fill-opacity="0.45"/>
<rect x="392.2" y="1063.2" width="2.2" height="42.4" fill="#999" fill-opacity="0.35"/>
<rect x="400.8" y="1063.2" width="3.6" height="42.4" fill="#999" fill-opacity="0.35"/>
<rect x="407.0" y="1063.2" width="3.1" height="42.4" fill="#eee" fill-opacity="0.35"/>
<rect x="413.1" y="1063.2" width="3.9" height="42.4" fill="#999" fill-opacity="0.35"/>
<rect x="421.5" y="1063.2" width="3.0" height="42.4" fill="#8a8a8a" fill-opacity="0.35"/>
<rect x="426.5" y="1063.2" width="3.6" height="42.4" fill="#eee" fill-opacity="0.35"/>
<rect x="437.0" y="1063.2" width="4.0" height="42.4" fill="#8a8a8a" fill-opacity="0.35"/>
<rect x="441.4" y="1063.2" width="2.0" height="42.4" fill="#eee" fill-opacity="0.35"/>
<rect x="451.0" y="1063.2" width="2.6" height="42.4" fill="#999" fill-opacity="0.35"/>
</g>
<path d="M 467.1,1106.1 L 468.1,1097.1 Q 473.1,1092.1 477.1,1098.1 Q 482.1,1093.1 486.1,1094.1 L 489.2,1098.1 L 489.2,1106.1 Z" fill="#b9b9b9" stroke="none"/>
<polygon points="453.3,1075.5 469.5,1059.0 469.5,1088.4 454.3,1103.9" fill="#fff" stroke="#231f20" stroke-width="1.7" stroke-linejoin="miter" />
<path d="M 469.5,1059.0 A 66.0,66.0 0 1 0 489.2,1106.1" fill="none" stroke="#231f20" stroke-width="1.7"/>
<path d="M 453.3,1075.5 A 42.9,42.9 0 1 0 466.1,1106.1 L 489.2,1104.6" fill="none" stroke="#231f20" stroke-width="1.7"/>
<path d="M 357.2,1106.1 L 357.2,1134.5 A 66.0,66.0 0 0 0 489.2,1134.5 L 489.2,1104.1" fill="none" stroke="#231f20" stroke-width="1.7"/>
<path d="M 380.3,1106.1 L 380.3,1128.5" fill="none" stroke="#231f20" stroke-width="1.2"/>
<path d="M 382.8,1120.2 A 42.9,42.9 0 0 1 454.3,1103.9" fill="none" stroke="#231f20" stroke-width="1.7"/>
<clipPath id="cpF"><polygon points="422.8,1217.3 235.2,1325.2 238.4,1331.8 216.4,1343.5 278.5,1451.4 301.2,1439.6 366.7,1551.9 554.0,1443.0"/></clipPath>
<polygon points="422.8,1217.3 235.2,1325.2 238.4,1331.8 216.4,1343.5 278.5,1451.4 301.2,1439.6 366.7,1551.9 554.0,1443.0" fill="#999999" stroke="#231f20" stroke-width="1.0" stroke-linejoin="miter" />
<g clip-path="url(#cpF)">
<circle cx="426.5" cy="1367.6" r="77.1" fill="none" stroke="#231f20" stroke-width="1.2" />
<circle cx="430.6" cy="1356.6" r="88.8" fill="none" stroke="#231f20" stroke-width="1.2" />
<circle cx="434.6" cy="1345.7" r="100.5" fill="none" stroke="#231f20" stroke-width="1.2" />
<circle cx="438.6" cy="1334.7" r="112.2" fill="none" stroke="#231f20" stroke-width="1.2" />
<circle cx="442.7" cy="1323.7" r="123.9" fill="none" stroke="#231f20" stroke-width="1.2" />
<circle cx="446.7" cy="1312.7" r="135.6" fill="none" stroke="#231f20" stroke-width="1.2" />
<circle cx="450.8" cy="1301.7" r="147.3" fill="none" stroke="#231f20" stroke-width="1.2" />
<circle cx="454.8" cy="1290.7" r="159.0" fill="none" stroke="#231f20" stroke-width="1.2" />
<circle cx="458.8" cy="1279.8" r="170.7" fill="none" stroke="#231f20" stroke-width="1.2" />
<circle cx="462.9" cy="1268.8" r="182.4" fill="none" stroke="#231f20" stroke-width="1.2" />
<circle cx="466.9" cy="1257.8" r="194.1" fill="none" stroke="#231f20" stroke-width="1.2" />
<circle cx="470.9" cy="1246.8" r="205.8" fill="none" stroke="#231f20" stroke-width="1.2" />
<circle cx="475.0" cy="1235.8" r="217.5" fill="none" stroke="#231f20" stroke-width="1.2" />
<circle cx="479.0" cy="1224.9" r="229.2" fill="none" stroke="#231f20" stroke-width="1.2" />
<circle cx="483.0" cy="1213.9" r="240.9" fill="none" stroke="#231f20" stroke-width="1.2" />
<circle cx="487.1" cy="1202.9" r="252.6" fill="none" stroke="#231f20" stroke-width="1.2" />
<circle cx="491.1" cy="1191.9" r="264.3" fill="none" stroke="#231f20" stroke-width="1.2" />
<circle cx="495.2" cy="1180.9" r="276.0" fill="none" stroke="#231f20" stroke-width="1.2" />
<circle cx="499.2" cy="1169.9" r="287.7" fill="none" stroke="#231f20" stroke-width="1.2" />
<circle cx="503.2" cy="1159.0" r="299.4" fill="none" stroke="#231f20" stroke-width="1.2" />
<circle cx="507.3" cy="1148.0" r="311.1" fill="none" stroke="#231f20" stroke-width="1.2" />
<circle cx="511.3" cy="1137.0" r="322.8" fill="none" stroke="#231f20" stroke-width="1.2" />
<circle cx="515.3" cy="1126.0" r="334.5" fill="none" stroke="#231f20" stroke-width="1.2" />
<circle cx="519.4" cy="1115.0" r="346.2" fill="none" stroke="#231f20" stroke-width="1.2" />
<circle cx="523.4" cy="1104.1" r="357.9" fill="none" stroke="#231f20" stroke-width="1.2" />
<circle cx="527.4" cy="1093.1" r="369.6" fill="none" stroke="#231f20" stroke-width="1.2" />
<circle cx="531.5" cy="1082.1" r="381.3" fill="none" stroke="#231f20" stroke-width="1.2" />
<circle cx="535.5" cy="1071.1" r="393.0" fill="none" stroke="#231f20" stroke-width="1.2" />
<circle cx="539.6" cy="1060.1" r="404.7" fill="none" stroke="#231f20" stroke-width="1.2" />
<circle cx="543.6" cy="1049.2" r="416.4" fill="none" stroke="#231f20" stroke-width="1.2" />
<circle cx="547.6" cy="1038.2" r="428.1" fill="none" stroke="#231f20" stroke-width="1.2" />
<circle cx="379.9" cy="1494.6" r="58.2" fill="none" stroke="#231f20" stroke-width="1.2" />
<circle cx="378.2" cy="1499.2" r="63.1" fill="none" stroke="#231f20" stroke-width="1.2" />
<circle cx="376.5" cy="1503.8" r="68.0" fill="none" stroke="#231f20" stroke-width="1.2" />
<circle cx="374.8" cy="1508.4" r="72.9" fill="none" stroke="#231f20" stroke-width="1.2" />
<circle cx="373.1" cy="1513.0" r="77.8" fill="none" stroke="#231f20" stroke-width="1.2" />
<circle cx="371.4" cy="1517.6" r="82.7" fill="none" stroke="#231f20" stroke-width="1.2" />
<circle cx="369.7" cy="1522.2" r="87.6" fill="none" stroke="#231f20" stroke-width="1.2" />
<circle cx="368.0" cy="1526.8" r="92.5" fill="none" stroke="#231f20" stroke-width="1.2" />
<circle cx="366.3" cy="1531.4" r="97.4" fill="none" stroke="#231f20" stroke-width="1.2" />
<circle cx="364.6" cy="1536.0" r="102.3" fill="none" stroke="#231f20" stroke-width="1.2" />
<circle cx="363.0" cy="1540.6" r="107.2" fill="none" stroke="#231f20" stroke-width="1.2" />
<circle cx="361.3" cy="1545.2" r="112.1" fill="none" stroke="#231f20" stroke-width="1.2" />
<circle cx="359.6" cy="1549.8" r="117.0" fill="none" stroke="#231f20" stroke-width="1.2" />
<circle cx="357.9" cy="1554.4" r="121.9" fill="none" stroke="#231f20" stroke-width="1.2" />
<circle cx="356.2" cy="1559.0" r="126.8" fill="none" stroke="#231f20" stroke-width="1.2" />
<circle cx="354.5" cy="1563.6" r="131.7" fill="none" stroke="#231f20" stroke-width="1.2" />
<circle cx="352.8" cy="1568.2" r="136.6" fill="none" stroke="#231f20" stroke-width="1.2" />
<circle cx="351.1" cy="1572.8" r="141.5" fill="none" stroke="#231f20" stroke-width="1.2" />
<circle cx="349.4" cy="1577.4" r="146.4" fill="none" stroke="#231f20" stroke-width="1.2" />
<circle cx="347.7" cy="1582.0" r="151.3" fill="none" stroke="#231f20" stroke-width="1.2" />
<circle cx="346.0" cy="1586.6" r="156.2" fill="none" stroke="#231f20" stroke-width="1.2" />
<circle cx="344.4" cy="1591.2" r="161.1" fill="none" stroke="#231f20" stroke-width="1.2" />
<circle cx="342.7" cy="1595.8" r="166.0" fill="none" stroke="#231f20" stroke-width="1.2" />
<circle cx="341.0" cy="1600.4" r="170.9" fill="none" stroke="#231f20" stroke-width="1.2" />
<circle cx="339.3" cy="1605.0" r="175.8" fill="none" stroke="#231f20" stroke-width="1.2" />
<circle cx="381.5" cy="1490.0" r="53.3" fill="#999999" stroke="#231f20" stroke-width="0.9" />
<clipPath id="cpD"><circle cx="381.5" cy="1490.0" r="53.3"/></clipPath>
<g clip-path="url(#cpD)">
<circle cx="308.2" cy="1438.8" r="2.9" fill="#231f20" stroke="none" stroke-width="0" />
<circle cx="339.4" cy="1438.8" r="2.9" fill="#231f20" stroke="none" stroke-width="0" />
<circle cx="370.6" cy="1438.8" r="2.9" fill="#231f20" stroke="none" stroke-width="0" />
<circle cx="401.8" cy="1438.8" r="2.9" fill="#231f20" stroke="none" stroke-width="0" />
<circle cx="433.0" cy="1438.8" r="2.9" fill="#231f20" stroke="none" stroke-width="0" />
<circle cx="464.2" cy="1438.8" r="2.9" fill="#231f20" stroke="none" stroke-width="0" />
<circle cx="323.7" cy="1454.4" r="2.9" fill="#231f20" stroke="none" stroke-width="0" />
<circle cx="354.9" cy="1454.4" r="2.9" fill="#231f20" stroke="none" stroke-width="0" />
<circle cx="386.1" cy="1454.4" r="2.9" fill="#231f20" stroke="none" stroke-width="0" />
<circle cx="417.3" cy="1454.4" r="2.9" fill="#231f20" stroke="none" stroke-width="0" />
<circle cx="448.5" cy="1454.4" r="2.9" fill="#231f20" stroke="none" stroke-width="0" />
<circle cx="479.7" cy="1454.4" r="2.9" fill="#231f20" stroke="none" stroke-width="0" />
<circle cx="308.2" cy="1470.0" r="2.9" fill="#231f20" stroke="none" stroke-width="0" />
<circle cx="339.4" cy="1470.0" r="2.9" fill="#231f20" stroke="none" stroke-width="0" />
<circle cx="370.6" cy="1470.0" r="2.9" fill="#231f20" stroke="none" stroke-width="0" />
<circle cx="401.8" cy="1470.0" r="2.9" fill="#231f20" stroke="none" stroke-width="0" />
<circle cx="433.0" cy="1470.0" r="2.9" fill="#231f20" stroke="none" stroke-width="0" />
<circle cx="464.2" cy="1470.0" r="2.9" fill="#231f20" stroke="none" stroke-width="0" />
<circle cx="323.7" cy="1485.5" r="2.9" fill="#231f20" stroke="none" stroke-width="0" />
<circle cx="354.9" cy="1485.5" r="2.9" fill="#231f20" stroke="none" stroke-width="0" />
<circle cx="386.1" cy="1485.5" r="2.9" fill="#231f20" stroke="none" stroke-width="0" />
<circle cx="417.3" cy="1485.5" r="2.9" fill="#231f20" stroke="none" stroke-width="0" />
<circle cx="448.5" cy="1485.5" r="2.9" fill="#231f20" stroke="none" stroke-width="0" />
<circle cx="479.7" cy="1485.5" r="2.9" fill="#231f20" stroke="none" stroke-width="0" />
<circle cx="308.2" cy="1501.0" r="2.9" fill="#231f20" stroke="none" stroke-width="0" />
<circle cx="339.4" cy="1501.0" r="2.9" fill="#231f20" stroke="none" stroke-width="0" />
<circle cx="370.6" cy="1501.0" r="2.9" fill="#231f20" stroke="none" stroke-width="0" />
<circle cx="401.8" cy="1501.0" r="2.9" fill="#231f20" stroke="none" stroke-width="0" />
<circle cx="433.0" cy="1501.0" r="2.9" fill="#231f20" stroke="none" stroke-width="0" />
<circle cx="464.2" cy="1501.0" r="2.9" fill="#231f20" stroke="none" stroke-width="0" />
<circle cx="323.7" cy="1516.6" r="2.9" fill="#231f20" stroke="none" stroke-width="0" />
<circle cx="354.9" cy="1516.6" r="2.9" fill="#231f20" stroke="none" stroke-width="0" />
<circle cx="386.1" cy="1516.6" r="2.9" fill="#231f20" stroke="none" stroke-width="0" />
<circle cx="417.3" cy="1516.6" r="2.9" fill="#231f20" stroke="none" stroke-width="0" />
<circle cx="448.5" cy="1516.6" r="2.9" fill="#231f20" stroke="none" stroke-width="0" />
<circle cx="479.7" cy="1516.6" r="2.9" fill="#231f20" stroke="none" stroke-width="0" />
<ellipse cx="370.6" cy="1530.8" rx="2.2" ry="1.2" fill="#231f20"/>
<ellipse cx="401.4" cy="1530.8" rx="2.2" ry="1.2" fill="#231f20"/>
</g>
</g>
<circle cx="422.5" cy="1378.6" r="65.4" fill="#fff" stroke="#231f20" stroke-width="0.9" />
<circle cx="423.6" cy="1378.3" r="42.2" fill="#ed1c24" stroke="#231f20" stroke-width="1.0" />
<polyline points="203.9,192.5 203.9,622.0" fill="none" stroke="#231f20" stroke-width="1.7" stroke-dasharray="10.6 6.6" />
<polyline points="366.6,473.0 366.6,900.0" fill="none" stroke="#231f20" stroke-width="1.7" stroke-dasharray="10.6 6.6" />
<polyline points="366.7,1041.0 366.7,1551.0" fill="none" stroke="#231f20" stroke-width="1.7" stroke-dasharray="10.6 6.6" />
<polyline points="514.4,388.0 514.4,442.0" fill="none" stroke="#231f20" stroke-width="1.7" stroke-dasharray="10.6 6.6" />
<polyline points="697.9,330.0 697.9,760.0" fill="none" stroke="#231f20" stroke-width="1.7" stroke-dasharray="10.6 6.6" />
<polyline points="423.2,639.0 423.2,821.0" fill="none" stroke="#231f20" stroke-width="1.7" stroke-dasharray="10.6 6.6" />
<polyline points="423.0,1030.0 423.0,1217.0" fill="none" stroke="#231f20" stroke-width="1.7" stroke-dasharray="10.6 6.6" />
<polyline points="545.4,765.0 545.4,869.0" fill="none" stroke="#231f20" stroke-width="1.7" stroke-dasharray="10.6 6.6" />
<polyline points="545.4,869.0 366.7,968.4" fill="none" stroke="#231f20" stroke-width="1.7" stroke-dasharray="10.6 6.6" />
<polyline points="554.0,935.0 554.0,1443.0" fill="none" stroke="#231f20" stroke-width="1.7" stroke-dasharray="10.6 6.6" />
<polyline points="216.5,769.0 216.5,1343.0" fill="none" stroke="#231f20" stroke-width="1.7" stroke-dasharray="10.6 6.6" /></svg></body></html>
